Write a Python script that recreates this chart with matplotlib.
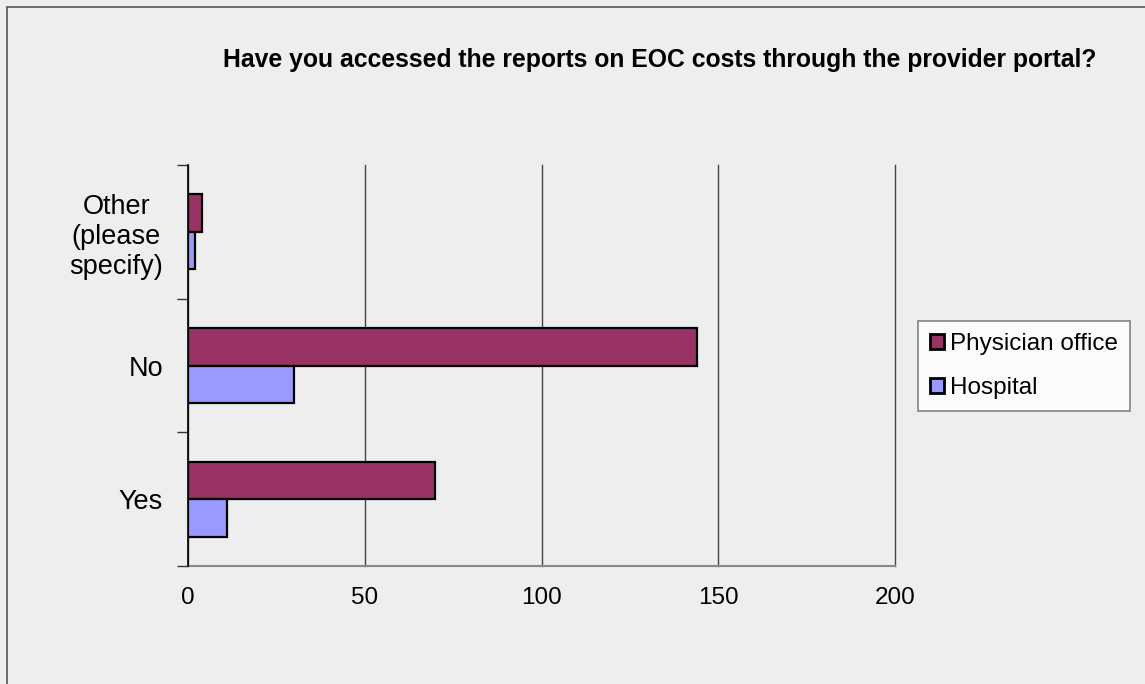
import matplotlib
matplotlib.use("Agg")
import matplotlib.pyplot as plt
from matplotlib.patches import Rectangle
import numpy as np

categories = ["Yes", "No", "Other\n(please\nspecify)"]
physician = [70, 144, 4]
hospital = [11, 30, 2]
series_names = ["Physician office", "Hospital"]
xticks = [0, 50, 100, 150, 200]
title = "Have you accessed the reports on EOC costs through the provider portal?"

plt.rcParams['font.family'] = ['Liberation Sans', 'DejaVu Sans']
bg = "#EEEEEE"
fig = plt.figure(figsize=(11.45, 6.84), dpi=100, facecolor=bg)
fig.patches.append(Rectangle((7/1145, -0.1), 1.2, (684-7)/684 + 0.1, transform=fig.transFigure,
                             facecolor='none', edgecolor='#555555', linewidth=1.2, zorder=0))

ax = fig.add_axes([188/1145, (684-566)/684, (895-188)/1145, (566-165)/684])
ax.set_facecolor(bg)
y = np.arange(len(categories))
h = 0.28
ax.barh(y + h/2, physician, height=h, color="#993366", edgecolor="black", linewidth=1.6,
        label=series_names[0], zorder=3)
ax.barh(y - h/2, hospital, height=h, color="#9999FF", edgecolor="black", linewidth=1.6,
        label=series_names[1], zorder=3)

ax.set_xlim(0, 200)
ax.set_ylim(-0.5, 2.5)
ax.set_xticks(xticks)
ax.set_xticklabels([str(v) for v in xticks], fontsize=17.5)
ax.tick_params(axis='x', which='major', length=0, pad=15)
ax.set_xticks([0], minor=True)
ax.tick_params(axis='x', which='minor', length=6, width=1.2, color='black')
ax.xaxis.grid(True, color='#444444', linewidth=1.0, zorder=0)
for gl in ax.get_xgridlines():
    gl.set_clip_on(False)
ax.set_yticks(y)
ax.set_yticklabels(categories, fontsize=19.5, multialignment='center', ha='right')
ax.tick_params(axis='y', which='major', length=0, pad=18)
ax.set_yticks([-0.5, 0.5, 1.5, 2.5], minor=True)
ax.tick_params(axis='y', which='minor', length=8, width=1, color='#333333')
for s in ['top', 'right']:
    ax.spines[s].set_visible(False)
ax.spines['bottom'].set_color('#888888')
ax.spines['bottom'].set_linewidth(1.5)
ax.spines['left'].set_linewidth(1.2)
ax.spines['left'].set_color('black')
ax.spines['left'].set_zorder(4)

fig.text(660/1145, 1 - 60/684, title, ha='center', va='center', fontsize=17.8, fontweight='bold')

leg = fig.legend(loc='center left', bbox_to_anchor=(918/1145, 1 - 366/684), fontsize=17.5,
                 frameon=True, fancybox=False, edgecolor='#666666', facecolor='white',
                 handlelength=0.55, handleheight=0.55, handletextpad=0.25, labelspacing=0.9,
                 borderpad=0.5, borderaxespad=0)
leg.get_frame().set_linewidth(1.2)
for p in leg.get_patches():
    p.set_linewidth(2)

fig.savefig("out.png", dpi=100, facecolor=bg)
